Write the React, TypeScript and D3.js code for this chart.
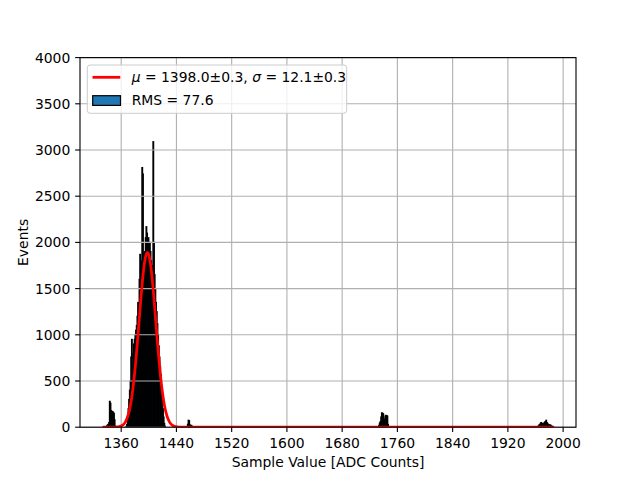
import React from 'react';
import * as d3 from 'd3';

// ---- data (histogram, 1 ADC count per bin) ----
const binFirstEdge = 1333;
const binLastEdge = 1986;

const lowClusterStart = 1338;
const lowClusterCounts = [5, 15, 25, 30, 50, 280, 260, 180, 165, 170, 160, 150, 80, 10];

const mainPeakStart = 1367;
const mainPeakCounts = [
  10, 30, 100, 200, 300, 400, 500, 760, 950, 600, // 1367-1376
  800, 900, 950, 1000, 1050, 1100, 1200, 1350, 1300, 1600, // 1377-1386
  1870, 1700, 1800, 2810, 2740, 1880, 1750, 1900, 2050, 2170, // 1387-1396
  2100, 2000, 2050, 1950, 2000, 1900, 1800, 1700, 1750, 3090, // 1397-1406
  2000, 1650, 1500, 1350, 1250, 1120, 1000, 880, 760, 660, // 1407-1416
  570, 450, 320, 200, 110, 40, 10, // 1417-1423
];

const thirdClusterStart = 1456;
const thirdClusterCounts = [30, 75, 70, 25, 15, 20, 10, 5];

const fourthClusterStart = 1733;
const fourthClusterCounts = [20, 45, 60, 110, 155, 150, 145, 90, 70, 120, 128, 125, 120, 30];

const fifthClusterStart = 1963;
const fifthClusterCounts = [5, 15, 25, 30, 45, 50, 40, 30, 35, 45, 55, 60, 75, 50, 40, 30, 25, 20, 25, 15, 10, 8, 5];

// fit parameters (from legend)
const fitMu = 1398.0;
const fitMuErr = 0.3;
const fitSigma = 12.1;
const fitSigmaErr = 0.3;
const fitAmplitude = 1890;
const rmsValue = 77.6;

const xTicks = [1360, 1440, 1520, 1600, 1680, 1760, 1840, 1920, 2000];
const yTicks = [0, 500, 1000, 1500, 2000, 2500, 3000, 3500, 4000];

const xLabel = 'Sample Value [ADC Counts]';
const yLabel = 'Events';

// ---- layout ----
const W = 640;
const H = 480;
const L = 80;
const R = 576;
const T = 57.6;
const B = 427.2;
const FONT = 'DejaVu Sans, sans-serif';
const FS = 13.9;

export default function App() {
  const span = binLastEdge - binFirstEdge;
  const x = d3.scaleLinear().domain([binFirstEdge - 0.05 * span, binLastEdge + 0.05 * span]).range([L, R]);
  const y = d3.scaleLinear().domain([0, 4000]).range([B, T]);

  const clusters = [
    { start: lowClusterStart, counts: lowClusterCounts },
    { start: mainPeakStart, counts: mainPeakCounts },
    { start: thirdClusterStart, counts: thirdClusterCounts },
    { start: fourthClusterStart, counts: fourthClusterCounts },
    { start: fifthClusterStart, counts: fifthClusterCounts },
  ];
  const bins = clusters.flatMap((c) => c.counts.map((n, i) => ({ x0: c.start + i, x1: c.start + i + 1, n })));

  const fitXs = d3.range(binFirstEdge, binLastEdge + 0.001, 0.25);
  const fitLine = d3
    .line<number>()
    .x((v) => x(v))
    .y((v) => y(fitAmplitude * Math.exp(-((v - fitMu) ** 2) / (2 * fitSigma * fitSigma))));

  const tickLen = 4.86;
  const pad = 4.86;

  return (
    <svg width={W} height={H} style={{ position: 'absolute', left: 0, top: 0, display: 'block', background: 'white' }}>
      <defs>
        <clipPath id="axclip">
          <rect x={L} y={T} width={R - L} height={B - T} />
        </clipPath>
      </defs>
      <rect x={0} y={0} width={W} height={H} fill="white" />
      <g clipPath="url(#axclip)">
        {bins.map((b, i) => (
          <rect
            key={i}
            x={x(b.x0)}
            y={y(b.n)}
            width={x(b.x1) - x(b.x0)}
            height={y(0) - y(b.n)}
            fill="#1f77b4"
            stroke="black"
            strokeWidth={1.2}
          />
        ))}
      </g>
      {/* grid (above patches, below lines) */}
      <g stroke="#b0b0b0" strokeWidth={1.11}>
        {xTicks.map((t) => (
          <line key={'gx' + t} x1={x(t)} x2={x(t)} y1={T} y2={B} />
        ))}
        {yTicks.map((t) => (
          <line key={'gy' + t} x1={L} x2={R} y1={y(t)} y2={y(t)} />
        ))}
      </g>
      <g clipPath="url(#axclip)">
        <path d={fitLine(fitXs) || ''} fill="none" stroke="#ff0000" strokeWidth={2.78} strokeLinejoin="round" />
      </g>
      {/* spines */}
      <rect x={L} y={T} width={R - L} height={B - T} fill="none" stroke="black" strokeWidth={1.11} />
      {/* x ticks */}
      <g fontFamily={FONT} fontSize={FS} fill="black">
        {xTicks.map((t) => (
          <g key={'xt' + t}>
            <line x1={x(t)} x2={x(t)} y1={B} y2={B + tickLen} stroke="black" strokeWidth={1.11} />
            <text x={x(t)} y={B + tickLen + pad + 11.2} textAnchor="middle">
              {t}
            </text>
          </g>
        ))}
        {yTicks.map((t) => (
          <g key={'yt' + t}>
            <line x1={L - tickLen} x2={L} y1={y(t)} y2={y(t)} stroke="black" strokeWidth={1.11} />
            <text x={L - tickLen - pad} y={y(t) + 5} textAnchor="end">
              {t}
            </text>
          </g>
        ))}
        <text x={(L + R) / 2} y={466.8} textAnchor="middle">
          {xLabel}
        </text>
        <text transform={`translate(28.3, ${(T + B) / 2}) rotate(-90)`} textAnchor="middle">
          {yLabel}
        </text>
      </g>
      {/* legend */}
      <g fontFamily={FONT} fontSize={FS}>
        <rect x={87.3} y={65} width={259.4} height={48.3} rx={2.8} fill="white" fillOpacity={0.8} stroke="#cccccc" strokeWidth={1} />
        <line x1={92.5} x2={120.3} y1={77.3} y2={77.3} stroke="#ff0000" strokeWidth={2.78} />
        <text x={131.7} y={81.7} fill="black">
          <tspan fontStyle="italic">μ</tspan>
          <tspan>{` = ${fitMu.toFixed(1)}±${fitMuErr.toFixed(1)}, `}</tspan>
          <tspan fontStyle="italic">σ</tspan>
          <tspan>{` = ${fitSigma.toFixed(1)}±${fitSigmaErr.toFixed(1)}`}</tspan>
        </text>
        <rect x={92.7} y={95.7} width={27.8} height={9.7} fill="#1f77b4" stroke="black" strokeWidth={1.2} />
        <text x={131.7} y={105} fill="black">
          {`RMS = ${rmsValue.toFixed(1)}`}
        </text>
      </g>
    </svg>
  );
}
